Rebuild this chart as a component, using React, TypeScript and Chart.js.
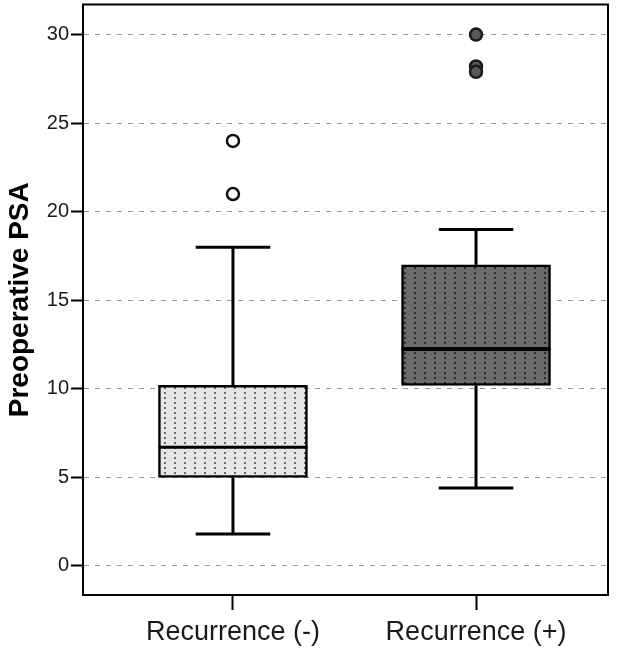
import React, { useEffect, useRef } from 'react';
import { Chart, registerables } from 'chart.js';
Chart.register(...registerables);

const categories = ['Recurrence (-)', 'Recurrence (+)'];
const q1 = [5.0, 10.2];
const median = [6.7, 12.25];
const q3 = [10.2, 17.0];
const whiskerLow = [1.8, 4.4];
const whiskerHigh = [18.0, 19.0];
const outliersNeg = [24, 21];
const outliersPos = [30, 28.2, 27.9];
const yTicks = [0, 5, 10, 15, 20, 25, 30];

function makePattern(base: string, dot: string): CanvasPattern | string {
  const c = document.createElement('canvas');
  c.width = 10;
  c.height = 5;
  const g = c.getContext('2d');
  if (!g) return base;
  g.fillStyle = base;
  g.fillRect(0, 0, 10, 5);
  g.fillStyle = dot;
  g.fillRect(4, 1, 2, 2);
  const p = g.createPattern(c, 'repeat');
  return p || base;
}

const boxPlugin = {
  id: 'boxWhiskers',
  afterDatasetsDraw(chart: any) {
    const { ctx } = chart;
    const x = chart.scales.x;
    const y = chart.scales.y;
    const meta = chart.getDatasetMeta(0);
    ctx.save();
    ctx.strokeStyle = '#000';
    ctx.lineCap = 'butt';
    const line = (x1: number, y1: number, x2: number, y2: number, w: number) => {
      ctx.lineWidth = w;
      ctx.beginPath();
      ctx.moveTo(x1, y1);
      ctx.lineTo(x2, y2);
      ctx.stroke();
    };
    categories.forEach((_, i) => {
      const cx = x.getPixelForValue(i);
      const bar = meta.data[i];
      const half = bar ? bar.width / 2 : 74;
      line(cx, y.getPixelForValue(q3[i]), cx, y.getPixelForValue(whiskerHigh[i]), 3);
      line(cx, y.getPixelForValue(q1[i]), cx, y.getPixelForValue(whiskerLow[i]), 3);
      line(cx - half / 2, y.getPixelForValue(whiskerHigh[i]), cx + half / 2, y.getPixelForValue(whiskerHigh[i]), 3);
      line(cx - half / 2, y.getPixelForValue(whiskerLow[i]), cx + half / 2, y.getPixelForValue(whiskerLow[i]), 3);
      line(cx - half, y.getPixelForValue(median[i]), cx + half, y.getPixelForValue(median[i]), i === 0 ? 3 : 4);
    });
    ctx.restore();
  },
};

const framePlugin = {
  id: 'frame',
  afterDraw(chart: any) {
    const { ctx, chartArea } = chart;
    ctx.save();
    ctx.strokeStyle = '#000';
    ctx.lineWidth = 2;
    ctx.strokeRect(chartArea.left, chartArea.top, chartArea.right - chartArea.left, chartArea.bottom - chartArea.top);
    ctx.restore();
  },
};

export default function App() {
  const ref = useRef<HTMLCanvasElement>(null);
  useEffect(() => {
    if (!ref.current) return;
    const p1 = makePattern('#e6e6e6', '#6a6a6a');
    const p2 = makePattern('#6b6b6b', '#2c2c2c');
    const chart = new Chart(ref.current, {
      type: 'bar',
      data: {
        datasets: [
          {
            type: 'bar',
            data: categories.map((_, i) => ({ x: i, y: [q1[i], q3[i]] })) as any,
            backgroundColor: [p1, p2] as any,
            borderColor: '#000',
            borderWidth: 2.5,
            borderSkipped: false,
            barThickness: 149,
            order: 2,
          },
          {
            type: 'scatter',
            data: outliersNeg.map((v) => ({ x: 0, y: v })),
            pointRadius: 6,
            pointBackgroundColor: '#ffffff',
            pointBorderColor: '#111',
            pointBorderWidth: 2.5,
            order: 1,
          },
          {
            type: 'scatter',
            data: outliersPos.map((v) => ({ x: 1, y: v })),
            pointRadius: 6,
            pointBackgroundColor: '#595959',
            pointBorderColor: '#1a1a1a',
            pointBorderWidth: 2.5,
            order: 1,
          },
        ] as any,
      },
      options: {
        animation: false,
        responsive: false,
        layout: { padding: { left: 0, top: 0, right: 34, bottom: 0 } },
        plugins: { legend: { display: false }, tooltip: { enabled: false } },
        scales: {
          x: {
            type: 'linear',
            offset: false,
            min: -0.617,
            max: 1.543,
            afterBuildTicks: (s: any) => {
              s.ticks = categories.map((_, i) => ({ value: i }));
            },
            afterFit: (s: any) => {
              s.height = 57;
              s.paddingLeft = 0;
              s.paddingRight = 0;
            },
            ticks: {
              callback: (v: any) => categories[v as number] ?? '',
              font: { family: 'Liberation Sans, Arial', size: 27 },
              color: '#1a1a1a',
              padding: 6,
              maxRotation: 0,
              autoSkip: false,
            },
            grid: {
              offset: false,
              drawOnChartArea: false,
              drawTicks: true,
              tickLength: 15,
              tickColor: '#000',
              tickWidth: 2,
            },
            border: { color: '#000', width: 2 },
          },
          y: {
            type: 'linear',
            min: -1.64,
            max: 31.7,
            afterBuildTicks: (s: any) => {
              s.ticks = yTicks.map((v) => ({ value: v }));
            },
            afterFit: (s: any) => {
              s.width = 83;
              s.paddingTop = 0;
              s.paddingBottom = 0;
            },
            ticks: {
              font: { family: 'Liberation Sans, Arial', size: 20 },
              color: '#1a1a1a',
              padding: 2,
            },
            grid: {
              color: '#9a9a9a',
              lineWidth: 1,
              tickBorderDash: [],
              tickLength: 12,
              tickColor: '#000',
              tickWidth: 2,
            } as any,
            border: { color: '#000', width: 2, dash: [5, 6] } as any,
            title: {
              display: true,
              text: 'Preoperative PSA',
              font: { family: 'Liberation Sans, Arial', size: 28, weight: 'bold' },
              color: '#000',
              padding: { top: 3, bottom: 0 },
            },
          },
        },
      },
      plugins: [boxPlugin, framePlugin],
    });
    return () => chart.destroy();
  }, []);
  return (
    <div style={{ position: 'absolute', left: 0, top: 0, width: 642, height: 652, overflow: 'hidden', background: '#fff' }}>
      <canvas
        ref={ref}
        width={642}
        height={656}
        style={{ display: 'block', position: 'absolute', left: 0, top: -4 }}
      />
    </div>
  );
}
